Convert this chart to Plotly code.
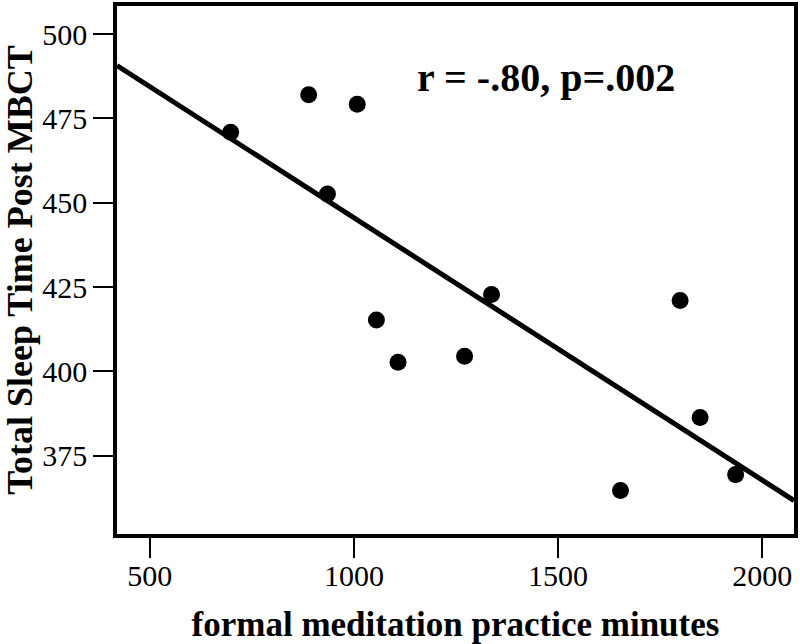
import numpy as np
import plotly.graph_objects as go

# Data
practice_minutes = [698, 889, 1008, 935, 1055, 1108, 1271, 1337, 1799, 1848, 1935, 1653]
sleep_time_post = [470.9, 482.0, 479.2, 452.6, 415.2, 402.7, 404.5, 422.8, 421.0, 386.3, 369.4, 364.7]

x_ticks = [500, 1000, 1500, 2000]
y_ticks = [375, 400, 425, 450, 475, 500]

x_range = [419.5, 2078]
y_range = [351.8, 508.3]

# Least-squares fit line across the full x range
slope, intercept = np.polyfit(practice_minutes, sleep_time_post, 1)
fit_x = np.array(x_range)
fit_y = slope * fit_x + intercept

serif = "Liberation Serif, Times New Roman, serif"

fig = go.Figure()
fig.add_trace(go.Scatter(
    x=fit_x, y=fit_y, mode="lines",
    line=dict(color="black", width=5),
    showlegend=False, hoverinfo="skip",
))
fig.add_trace(go.Scatter(
    x=practice_minutes, y=sleep_time_post, mode="markers",
    marker=dict(color="black", size=17),
    showlegend=False,
))

fig.add_annotation(
    x=1470, y=487.0, xref="x", yref="y",
    text="<b>r = -.80, p=.002</b>", showarrow=False,
    font=dict(family=serif, size=40, color="black"),
)

fig.update_xaxes(
    range=x_range, tickvals=x_ticks,
    showline=True, mirror=True, linecolor="black", linewidth=3.5,
    ticks="outside", ticklen=20, tickwidth=2, tickcolor="black",
    ticklabelstandoff=-8,
    showgrid=False, zeroline=False,
    tickfont=dict(family=serif, size=30, color="black"),
    title=dict(text="<b>formal meditation practice minutes</b>",
               font=dict(family=serif, size=35, color="black"), standoff=22),
)
fig.update_yaxes(
    range=y_range, tickvals=y_ticks,
    showline=True, mirror=True, linecolor="black", linewidth=3.5,
    ticks="outside", ticklen=20, tickwidth=2, tickcolor="black",
    showgrid=False, zeroline=False,
    tickfont=dict(family=serif, size=30, color="black"),
    title=dict(text="<b>Total Sleep Time Post MBCT</b>",
               font=dict(family=serif, size=36, color="black"), standoff=4),
)

fig.update_layout(
    width=800, height=644,
    margin=dict(l=117, r=4, t=2, b=110),
    paper_bgcolor="white", plot_bgcolor="white",
)

fig.write_html("out.html", config={"displayModeBar": False},
               post_script="document.body.style.margin='0';")
